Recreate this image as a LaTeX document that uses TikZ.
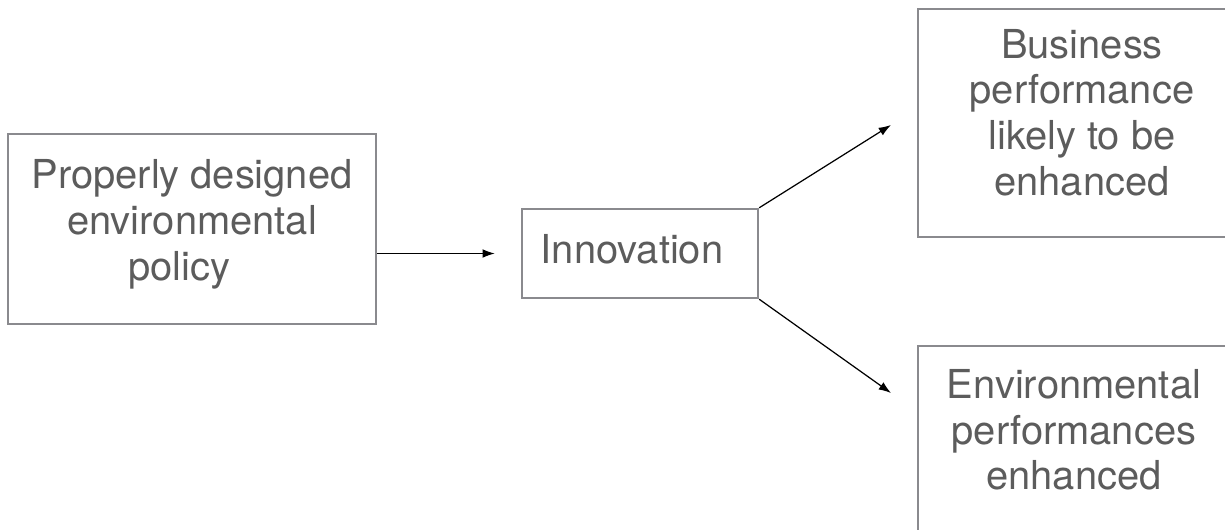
\documentclass[tikz,border=0pt]{standalone}
\usepackage{fontspec}
\setmainfont{TeX Gyre Heros}
\usetikzlibrary{arrows.meta}
\definecolor{boxgray}{RGB}{138,138,142}
\definecolor{textgray}{RGB}{92,92,92}
\begin{document}
\begin{tikzpicture}[x=0.02cm, y=-0.02cm,
    box/.style={draw=boxgray, line width=1.4pt, text=textgray, align=center, inner sep=0pt,
        font=\fontsize{22.7}{26}\selectfont},
    link/.style={-{Latex[length=7pt,width=5pt]}, line width=0.7pt}]
    \useasboundingbox (0,0) rectangle (1225,529);
    % the four boxes
    \node[box, minimum width=7.36cm, minimum height=3.8cm, text depth=10.5pt] (policy) at (192,229)
        {Properly designed\\environmental\hspace*{11pt}\\policy\hspace*{14.5pt}};
    \node[box, minimum width=4.72cm, minimum height=1.78cm, text depth=5.7pt] (innov) at (640,253.5)
        {Innovation\hspace*{9pt}};
    \node[box, minimum width=6.56cm, minimum height=4.56cm, text depth=12.5pt] (business) at (1082,123)
        {Business\\performance\\likely to be\\enhanced};
    \node[box, minimum width=6.24cm, minimum height=3.8cm, text depth=13pt] (environ) at (1074,441)
        {Environmental\\performances\\enhanced};

    % free ends of the two outgoing arrows
    \coordinate (tipup) at (891,125);
    \coordinate (tipdown) at (891,393);

    \draw[link, shorten >=0.52cm] (policy.east |- innov.west) -- (innov.west);
    \draw[link] (innov.north east) -- (tipup);
    \draw[link] (innov.south east) -- (tipdown);
\end{tikzpicture}
\end{document}
